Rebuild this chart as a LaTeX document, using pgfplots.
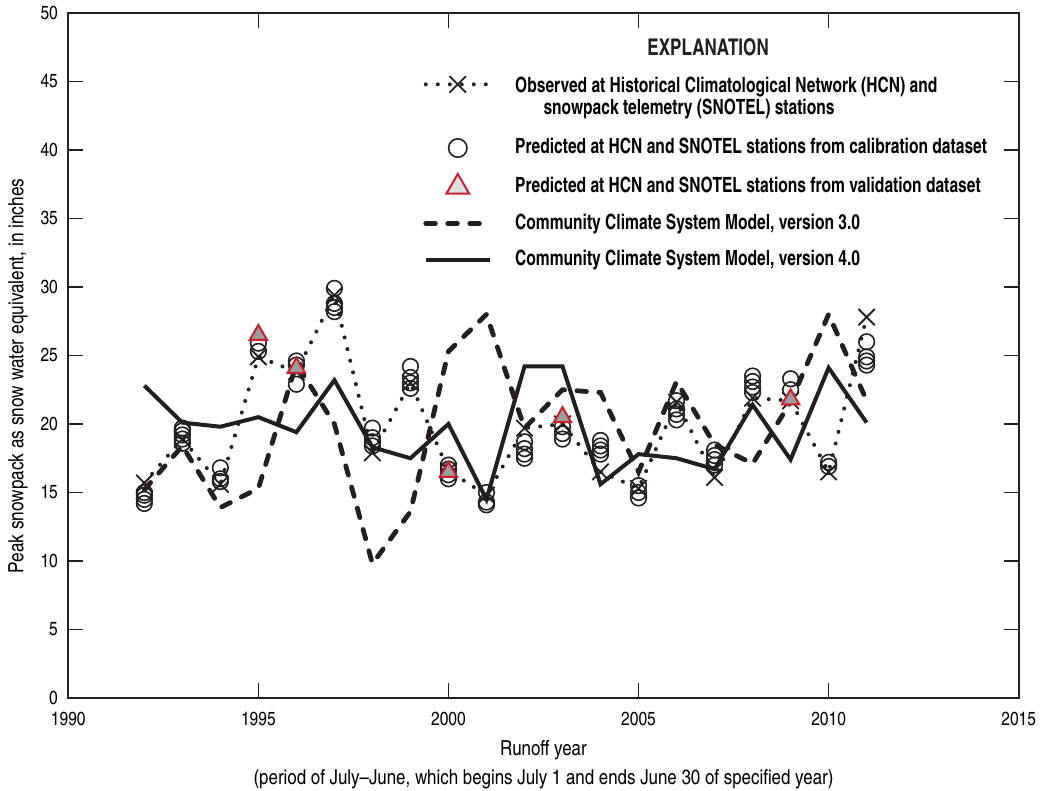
\documentclass[border=0pt]{standalone}
\usepackage{pgfplots}
\usepackage{pgfplotstable}
\pgfplotsset{compat=1.18}
\usepackage{fontspec}
\setmainfont{texgyreheroscn}[Extension=.otf, UprightFont=*-regular, BoldFont=*-bold, ItalicFont=*-italic, BoldItalicFont=*-bolditalic]
% Slightly narrower cut for the explanation block
\newfontfamily\narrowfont{texgyreheroscn}[Extension=.otf, UprightFont=*-regular, BoldFont=*-bold, FakeStretch=0.905]

\definecolor{ink}{HTML}{231F20}
\definecolor{valred}{HTML}{C8202E}
\definecolor{valgray}{HTML}{9C9C9C}

% Legend sample styles: 32pt wide, mark in the middle
\pgfplotsset{
  wide legend/.style={legend image code/.code={\draw[mark repeat=2,mark phase=2,##1] plot coordinates {(0pt,0pt) (16pt,0pt) (32pt,0pt)};}},
  obs legend/.style={legend image code/.code={\draw[yshift=7.5pt,mark repeat=2,mark phase=2,##1] plot coordinates {(0pt,0pt) (16pt,0pt) (32pt,0pt)};}},
  calib legend/.style={legend image code/.code={\draw[mark repeat=2,mark phase=2,##1, mark size=4.6pt] plot coordinates {(0pt,0pt) (16pt,0pt) (32pt,0pt)};}},
  valid legend/.style={legend image code/.code={\draw[mark repeat=2,mark phase=2,##1, mark size=6.6pt, mark options={draw=valred, fill=black!12, line width=1pt}] plot coordinates {(0pt,0pt) (16pt,0pt) (32pt,0pt)};}},
}

% Observed peak snow water equivalent (HCN and SNOTEL stations)
\pgfplotstableread{
year swe
1992 15.7
1993 18.9
1994 15.6
1995 24.9
1996 23.8
1997 29.4
1998 17.9
1999 23.0
2000 16.6
2001 14.8
2002 19.7
2003 20.0
2004 16.5
2005 15.3
2006 21.6
2007 16.1
2008 21.9
2009 21.7
2010 16.5
2011 27.8
}\observed

% Predicted from the calibration dataset (several stations per year)
\pgfplotstableread{
year swe
1992 14.2
1992 14.5
1992 14.8
1992 15.0
1993 18.6
1993 18.9
1993 19.2
1993 19.5
1993 19.7
1994 15.8
1994 16.0
1994 16.8
1995 25.3
1995 25.9
1996 22.9
1996 24.3
1996 24.6
1997 28.2
1997 28.5
1997 28.8
1997 29.9
1998 18.4
1998 18.7
1998 19.0
1998 19.7
1999 22.6
1999 23.0
1999 23.4
1999 24.2
2000 16.0
2000 16.3
2000 16.7
2000 17.0
2001 14.1
2001 14.3
2001 15.0
2002 17.5
2002 17.8
2002 18.2
2002 18.7
2003 18.9
2003 19.3
2003 19.8
2004 17.8
2004 18.1
2004 18.4
2004 18.8
2005 14.6
2005 15.0
2005 15.5
2006 20.3
2006 20.7
2006 21.1
2006 21.7
2007 17.0
2007 17.4
2007 17.7
2007 18.1
2008 22.3
2008 22.7
2008 23.1
2008 23.5
2009 22.5
2009 23.3
2010 16.9
2010 17.2
2011 24.3
2011 24.6
2011 24.9
2011 26.0
}\calibration

% Predicted from the validation dataset
\pgfplotstableread{
year swe
1995 26.5
1996 24.1
2000 16.5
2003 20.5
2009 21.8
}\validation

% Community Climate System Model, version 3.0
\pgfplotstableread{
year swe
1992 15.2
1993 18.4
1994 13.9
1995 15.3
1996 24.4
1997 20.0
1998 9.8
1999 13.6
2000 25.3
2001 28.0
2002 19.7
2003 22.5
2004 22.3
2005 16.5
2006 23.1
2007 18.5
2008 17.1
2009 21.6
2010 28.0
2011 21.7
}\ccsmthree

% Community Climate System Model, version 4.0
\pgfplotstableread{
year swe
1992 22.8
1993 20.1
1994 19.8
1995 20.5
1996 19.4
1997 23.2
1998 18.3
1999 17.5
2000 20.0
2001 14.5
2002 24.2
2003 24.2
2004 15.6
2005 17.8
2006 17.5
2007 16.7
2008 21.4
2009 17.4
2010 24.1
2011 20.1
}\ccsmfour

\begin{document}
\begin{tikzpicture}
\begin{axis}[
  scale only axis,
  width=475.2pt, height=342.5pt,
  at={(0pt,0pt)}, anchor=south west,
  xmin=1990, xmax=2015, ymin=0, ymax=50,
  xtick={1990,1995,...,2015},
  ytick={0,5,...,50},
  tick align=inside,
  major tick length=7.5pt,
  every tick/.style={ink, line width=0.7pt},
  axis line style={ink, line width=0.8pt},
  xticklabel style={/pgf/number format/1000 sep={}, font=\fontsize{9.5}{11}\selectfont, inner sep=0pt, yshift=-7pt},
  yticklabel style={font=\fontsize{9.5}{11}\selectfont, inner sep=0pt, xshift=-5pt},
  /pgf/number format/assume math mode=true,
  xlabel={Runoff year\\[2.5pt](period of July\textendash June, which begins July 1 and ends June 30 of specified year)},
  xlabel style={at={(axis description cs:0.5,-0.062)}, anchor=north, align=center, inner sep=0pt, font=\fontsize{10.3}{12}\selectfont},
  ylabel={Peak snowpack as snow water equivalent, in inches},
  ylabel style={at={(axis description cs:-0.053,0.47)}, anchor=center, inner sep=0pt, font=\fontsize{10.5}{12}\selectfont},
  wide legend,
  legend cell align=left,
  legend style={
    at={(axis cs:1999.33,45.4)}, anchor=north west,
    draw=none, fill=none, inner sep=0pt, row sep=7.7pt,
    font=\fontsize{10.5}{11}\selectfont\narrowfont\bfseries,
    nodes={inner sep=0pt, text height=8pt, text depth=2.5pt},
    /tikz/every odd column/.append style={column sep=11.5pt},
  },
]

\addplot[ink, line width=2pt, dash pattern=on 0pt off 6pt, line cap=round,
  mark=x, mark size=5.6pt, mark options={solid, line width=0.9pt}, obs legend]
  table[x=year, y=swe] {\observed};
\addlegendentry[text depth=14.8pt]{\begin{tabular}[t]{@{}l@{}}Observed at Historical Climatological Network (HCN) and\\\hspace{1.35em}snowpack telemetry (SNOTEL) stations\end{tabular}}

\addplot[only marks, mark=o, mark size=3.9pt, mark options={ink, line width=0.8pt}, calib legend]
  table[x=year, y=swe] {\calibration};
\addlegendentry{Predicted at HCN and SNOTEL stations from calibration dataset}

\addplot[only marks, mark=triangle*, mark size=5pt,
  mark options={draw=valred, fill=valgray, line width=1pt}, valid legend]
  table[x=year, y=swe] {\validation};
\addlegendentry{Predicted at HCN and SNOTEL stations from validation dataset}

\addplot[ink, line width=2.4pt, dash pattern=on 4.8pt off 6.2pt, line cap=round]
  table[x=year, y=swe] {\ccsmthree};
\addlegendentry{Community Climate System Model, version 3.0}

\addplot[ink, line width=2pt]
  table[x=year, y=swe] {\ccsmfour};
\addlegendentry{Community Climate System Model, version 4.0}

\node[font=\fontsize{11.5}{13}\selectfont\narrowfont\bfseries, ink, anchor=center] at (axis cs:2006.83,47.5) {EXPLANATION};
\end{axis}
\pgfresetboundingbox
\path[use as bounding box] (-34.15pt,-46.5pt) rectangle (485.85pt,349pt);
\end{tikzpicture}
\end{document}
